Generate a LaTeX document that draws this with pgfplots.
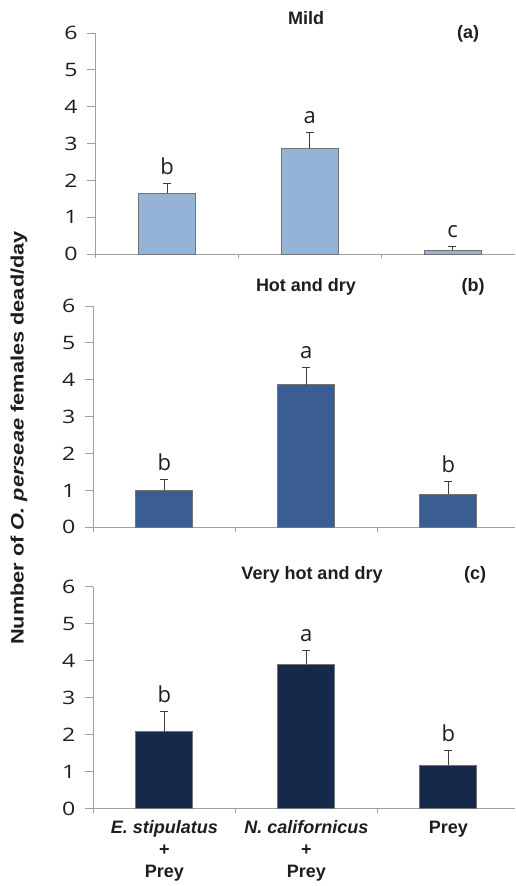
\documentclass[border=0pt]{standalone}
\usepackage{pgfplots}
\pgfplotsset{compat=1.18}
\usepackage{pgfplotstable}
\usepackage{graphicx}
\usepackage{fontspec}
\setmainfont{Liberation Sans}
\newfontfamily\numfont{Open Sans}

\definecolor{mildblue}{HTML}{95B3D7}
\definecolor{hotblue}{HTML}{3A5E93}
\definecolor{veryhotblue}{HTML}{15294A}
\definecolor{axisgray}{HTML}{A0A0A0}
\definecolor{errgray}{HTML}{3C3C3C}
\definecolor{txt}{HTML}{1E1E1E}

% columns: category position, mean, upper error, significance letter
\pgfplotstableread{
x  y     err   lab
0  1.65  0.27  b
1  2.87  0.44  a
2  0.10  0.10  c
}\mild
\pgfplotstableread{
x  y     err   lab
0  1.00  0.29  b
1  3.87  0.47  a
2  0.90  0.35  b
}\hotdry
\pgfplotstableread{
x  y     err   lab
0  2.08  0.54  b
1  3.90  0.38  a
2  1.17  0.40  b
}\veryhot

\pgfplotsset{
  panel/.style={
    scale only axis,
    anchor=south west,
    ymin=0, ymax=6, ytick={0,...,6},
    xmin=-0.5,
    axis x line=bottom, axis y line=left,
    axis line style={-, draw=axisgray, line width=0.9pt},
    tick align=outside,
    major tick length=8.5pt,
    ytick style={draw=axisgray, line width=0.9pt},
    xtick={0,1,2},
    xtick style={draw=none},
    extra x ticks={-0.5,0.5,1.5},
    extra x tick labels={},
    extra x tick style={major tick length=4.5pt, xtick style={draw=axisgray, line width=0.9pt}},
    /pgf/number format/assume math mode=true,
    yticklabel={\scalebox{1.25}[1]{\pgfmathprintnumber{\tick}}},
    yticklabel style={font=\numfont\fontsize{18.5}{18.5}\selectfont, text=txt, xshift=-6pt},
    clip=false,
  },
  bars/.style={
    ybar, bar width=57pt, fill=#1, draw=black!55, line width=0.6pt,
    error bars/.cd, y dir=plus, y explicit,
    error bar style={draw=errgray, line width=1.1pt},
    error mark options={rotate=90, mark size=4pt, draw=errgray, line width=1.1pt},
  },
  letters/.style={
    draw=none, mark=none, nodes near coords, point meta=explicit symbolic,
    every node near coord/.append style={anchor=base, yshift=9pt, text=txt,
      font=\numfont\fontsize{22}{22}\selectfont},
  },
}

\begin{document}
\begin{tikzpicture}
\useasboundingbox (0pt,0pt) rectangle (515pt,886pt);

% (a) mild
\begin{axis}[panel, at={(95.7pt,632pt)}, width=419.3pt, height=221pt, xmax=2.438, xticklabels={}]
  \addplot[bars=mildblue] table[x=x, y=y, y error=err] {\mild};
  \addplot[letters] table[x=x, y expr=\thisrow{y}+\thisrow{err}, meta=lab] {\mild};
\end{axis}

% (b) hot and dry
\begin{axis}[panel, at={(93.3pt,358.7pt)}, width=421.7pt, height=221.3pt, xmax=2.47, xticklabels={}]
  \addplot[bars=hotblue] table[x=x, y=y, y error=err] {\hotdry};
  \addplot[letters] table[x=x, y expr=\thisrow{y}+\thisrow{err}, meta=lab] {\hotdry};
\end{axis}

% (c) very hot and dry
\begin{axis}[panel, at={(93.3pt,77.3pt)}, width=421.7pt, height=222pt, xmax=2.47,
  xticklabels={{\textit{E. stipulatus}\\+\\Prey},{\textit{N. californicus}\\+\\Prey},{Prey}},
  xticklabel style={align=center, anchor=north, text=txt,
    font=\bfseries\fontsize{18}{22}\selectfont}]
  \addplot[bars=veryhotblue] table[x=x, y=y, y error=err] {\veryhot};
  \addplot[letters] table[x=x, y expr=\thisrow{y}+\thisrow{err}, meta=lab] {\veryhot};
\end{axis}

% panel titles and tags
\begin{scope}[every node/.style={font=\bfseries\fontsize{18}{18}\selectfont, text=txt}]
  \node at (306pt,868pt) {Mild};
  \node at (468pt,852pt) {(a)};
  \node at (306pt,599pt) {Hot and dry};
  \node at (473pt,599pt) {(b)};
  \node at (312pt,311pt) {Very hot and dry};
  \node at (475pt,311pt) {(c)};
\end{scope}

% shared y label
\node[rotate=90, font=\bfseries\fontsize{18}{18}\selectfont, text=txt] at (19pt,448pt)
  {\scalebox{1.21}[1]{Number of \textit{O. perseae} females dead/day}};
\end{tikzpicture}
\end{document}
